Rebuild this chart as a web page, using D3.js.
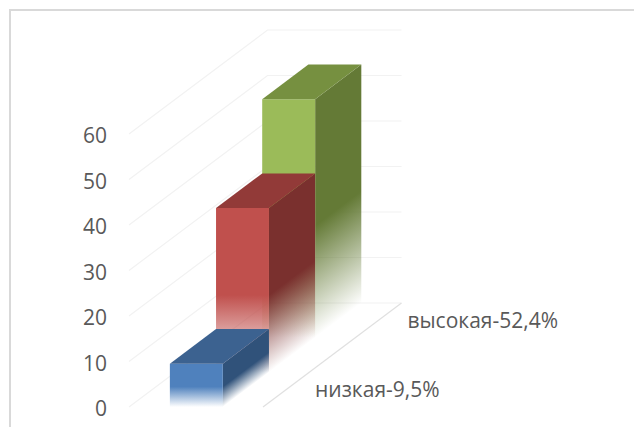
<!DOCTYPE html>
<html><head><meta charset="utf-8">
<script src="https://cdn.jsdelivr.net/npm/d3@7/dist/d3.min.js"></script>
<style>html,body{margin:0;padding:0;background:#fff}svg{display:block}text{font-family:"Open Sans",sans-serif;fill:#595959}</style>
</head><body>
<svg id="c" width="634" height="427"></svg>
<script>
const categories = ["низкая", "средняя", "высокая"];
const values = [9.5, 36.1, 52.4];
const categoryLabels = ["низкая-9,5%", "", "высокая-52,4%"];
const yTicks = [0, 10, 20, 30, 40, 50, 60];
const frontColors = ["#4f81bd", "#c0504d", "#9bbb59"];
const topColors = ["#3c6290", "#923a38", "#769040"];
const sideColors = ["#30527a", "#7a302e", "#647a36"];
const fadeStart = 0.53;

const svg = d3.select("#c");
const y = d3.scaleLinear().domain([0, 60]).range([407, 134]);
const xWidth = d3.scaleLinear().domain([0, 1]).range([129, 263]);
const depth = d3.scaleBand().domain(categories).range([0, 1]);
const depthX = d3.scaleLinear().domain([0, 1]).range([0, 138.5]);
const depthY = d3.scaleLinear().domain([0, 1]).range([0, -104]);
const barLeft = xWidth(0.305), barRight = xWidth(0.70);
const skewDeg = Math.atan2(depthY(1), depthX(1)) * 180 / Math.PI;
const pt = (x, v, d) => [x + depthX(d), y(v) + depthY(d)];
const poly = pts => pts.map(p => p.join(",")).join(" ");

// frame
svg.append("path").attr("d", "M10,427V10H634").attr("fill", "none").attr("stroke", "#d9d9d9").attr("stroke-width", 2);

// gridlines
const grid = svg.append("g").attr("fill", "none");
yTicks.forEach(t => {
  grid.append("polyline")
    .attr("points", poly([pt(xWidth(0), t, 0), pt(xWidth(0), t, 1), pt(xWidth(1), t, 1)]))
    .attr("stroke", "#f2f2f2").attr("stroke-width", 1.2);
});
grid.append("line")
  .attr("x1", pt(xWidth(1), 0, 0)[0]).attr("y1", pt(xWidth(1), 0, 0)[1])
  .attr("x2", pt(xWidth(1), 0, 1)[0]).attr("y2", pt(xWidth(1), 0, 1)[1])
  .attr("stroke", "#e0e0e0").attr("stroke-width", 1.2);

// axis
const axis = svg.append("g").attr("transform", `translate(${xWidth(0)},2)`)
  .call(d3.axisLeft(y).tickValues(yTicks).tickSize(0).tickPadding(22).tickFormat(d3.format("d")));
axis.select(".domain").remove();
axis.selectAll("text").attr("font-size", 21).style("font-family", '"Open Sans",sans-serif').attr("fill", "#595959");

// bars, back to front
const defs = svg.append("defs");
function fadeGradient(id, color, x0, yTop, yBase, skew) {
  const yF = yTop + (yBase - yTop) * fadeStart;
  const g = defs.append("linearGradient").attr("id", id)
    .attr("gradientUnits", "userSpaceOnUse")
    .attr("x1", x0).attr("x2", x0).attr("y1", yF).attr("y2", yBase);
  if (skew) g.attr("gradientTransform", `translate(${x0},0) skewY(${skewDeg}) translate(${-x0},0)`);
  g.append("stop").attr("offset", 0).attr("stop-color", color).attr("stop-opacity", 1);
  g.append("stop").attr("offset", 1).attr("stop-color", color).attr("stop-opacity", 0);
  return `url(#${id})`;
}
const bars = svg.append("g");
d3.range(categories.length).reverse().forEach(i => {
  const d0 = depth(categories[i]), d1 = d0 + depth.bandwidth(), v = values[i];
  const g = bars.append("g");
  const fl = pt(barLeft, 0, d0), fr = pt(barRight, 0, d0), tl = pt(barLeft, v, d0), tr = pt(barRight, v, d0);
  const br = pt(barRight, 0, d1), tbr = pt(barRight, v, d1), tbl = pt(barLeft, v, d1);
  g.append("polygon").attr("points", poly([tr, tbr, br, fr]))
    .attr("fill", fadeGradient("side" + i, sideColors[i], fr[0], tr[1], fr[1], true));
  g.append("polygon").attr("points", poly([tl, tr, fr, fl]))
    .attr("fill", fadeGradient("front" + i, frontColors[i], fl[0], tl[1], fl[1], false));
  g.append("polygon").attr("points", poly([tl, tbl, tbr, tr])).attr("fill", topColors[i]);
});

// category labels
const labels = svg.append("g");
categories.forEach((c, i) => {
  if (!categoryLabels[i]) return;
  const p = pt(xWidth(1), 0, depth(c) + depth.bandwidth() / 2);
  labels.append("text").attr("x", p[0] + 29).attr("y", p[1] + 7.5)
    .attr("font-size", 21).text(categoryLabels[i]);
});
</script>
</body></html>
